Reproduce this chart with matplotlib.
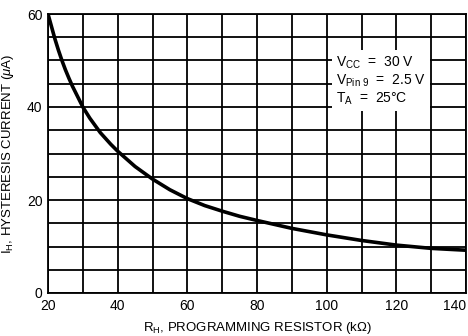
import matplotlib
matplotlib.use("Agg")
import matplotlib.pyplot as plt
from matplotlib import rcParams

# values
r_kohm = [20, 21, 22, 23, 24, 25, 26, 27, 28, 30, 32, 35, 38, 40, 45, 50, 55, 60, 65,
          70, 75, 80, 90, 100, 110, 120, 130, 140]
i_ua = [60, 57.3, 54.6, 52.2, 50.0, 48.0, 46.2, 44.5, 43.0, 40.0, 37.6, 34.5, 32.0, 30.5,
        27.2, 24.5, 22.2, 20.3, 18.8, 17.6, 16.5, 15.6, 13.9, 12.5, 11.3, 10.3, 9.6, 9.2]

x_ticks = [20, 40, 60, 80, 100, 120, 140]
y_ticks = [0, 20, 40, 60]

rcParams.update({
    "font.family": ["Liberation Sans", "DejaVu Sans"],
    "font.size": 9,
    "mathtext.fontset": "custom",
    "mathtext.rm": "Liberation Sans",
    "mathtext.it": "Liberation Sans:italic",
})

fig = plt.figure(figsize=(4.68, 3.36), dpi=100)
ax = fig.add_axes([48 / 468, 1 - 293 / 336, 418 / 468, 279 / 336])

# grid every 10 kOhm and every 5 uA
for xv in range(20, 141, 10):
    ax.axvline(xv, color="black", lw=1.3, zorder=1)
for yv in range(0, 61, 5):
    ax.axhline(yv, color="black", lw=1.3, zorder=1)

ax.plot(r_kohm, i_ua, color="black", lw=2.6, zorder=3, solid_capstyle="butt")

ax.set_xlim(20, 140)
ax.set_ylim(0, 60)
ax.set_xticks(x_ticks)
ax.set_yticks(y_ticks)
ax.tick_params(length=0, pad=4, labelsize=10)
ax.get_xticklabels()[-1].set_horizontalalignment("right")
for s in ax.spines.values():
    s.set_linewidth(1.3)

ax.set_xlabel(r"R$_{\mathrm{H}}$, PROGRAMMING RESISTOR (k$\Omega$)", fontsize=9.5, labelpad=5)
ax.set_ylabel(r"I$_{\mathrm{H}}$, HYSTERESIS CURRENT ($\mu$A)", fontsize=9.5, labelpad=8)

ax.text(
    0.69, 0.855,
    "V$_{\\mathrm{CC}}$  =  30 V\nV$_{\\mathrm{Pin\\ 9}}$  =  2.5 V\nT$_{\\mathrm{A}}$  =  25°C",
    transform=ax.transAxes, fontsize=10, va="top", ha="left", linespacing=1.15, zorder=4,
    bbox=dict(facecolor="white", edgecolor="none", pad=3),
)

fig.savefig("out.png", dpi=100)
